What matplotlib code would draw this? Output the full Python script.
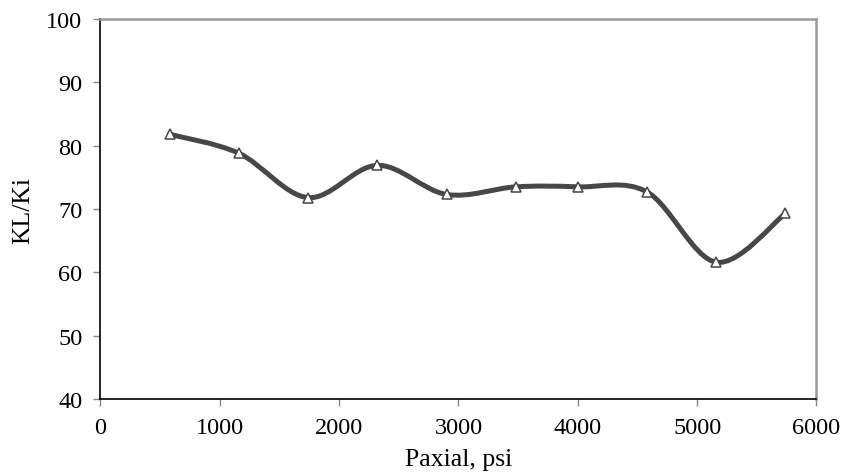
import numpy as np
import matplotlib
matplotlib.use('Agg')
import matplotlib.pyplot as plt
from matplotlib.path import Path
from matplotlib.patches import PathPatch

# data
paxial = [580, 1160, 1740, 2320, 2900, 3480, 4000, 4580, 5160, 5740]
kl_ki = [81.8, 78.8, 71.8, 76.9, 72.3, 73.5, 73.5, 72.7, 61.6, 69.3]

xticks = [0, 1000, 2000, 3000, 4000, 5000, 6000]
yticks = [40, 50, 60, 70, 80, 90, 100]

plt.rcParams['font.family'] = ['Liberation Serif', 'DejaVu Serif']
plt.rcParams['font.size'] = 17.5

fig = plt.figure(figsize=(8.56, 4.77), dpi=100)
ax = fig.add_axes([0.1174, 0.1614, 0.8364, 0.7966])

# smoothed line like Excel (Catmull-Rom as cubic bezier)
pts = np.column_stack([paxial, kl_ki]).astype(float)
ext = np.vstack([pts[0], pts, pts[-1]])
verts = [tuple(pts[0])]
codes = [Path.MOVETO]
for i in range(1, len(ext) - 2):
    p0, p1, p2, p3 = ext[i - 1], ext[i], ext[i + 1], ext[i + 2]
    c1 = p1 + (p2 - p0) / 6.0
    c2 = p2 - (p3 - p1) / 6.0
    verts += [tuple(c1), tuple(c2), tuple(p2)]
    codes += [Path.CURVE4] * 3
curve = PathPatch(Path(verts, codes), facecolor='none', edgecolor='#474747',
                  lw=3.6, capstyle='round', joinstyle='round', zorder=2)
ax.add_patch(curve)

ax.plot(paxial, kl_ki, linestyle='none', marker='^', markersize=7,
        markerfacecolor='white', markeredgecolor='#474747',
        markeredgewidth=1.1, zorder=3)

ax.set_xlim(0, 6000)
ax.set_ylim(40, 100)
ax.set_xticks(xticks)
ax.set_yticks(yticks)
ax.tick_params(direction='out', length=5, width=1, color='#888888', pad=8)

for s in ['left', 'bottom']:
    ax.spines[s].set_color('black')
    ax.spines[s].set_linewidth(1.2)
for s in ['top', 'right']:
    ax.spines[s].set_color('#999999')
    ax.spines[s].set_linewidth(1.8)

ax.set_xlabel('Paxial, psi', fontsize=18.5)
ax.set_ylabel('KL/Ki', fontsize=18.5)
ax.xaxis.set_label_coords(0.5, -0.13)
ax.yaxis.set_label_coords(-0.092, 0.5)

plt.savefig('out.png', dpi=100)
